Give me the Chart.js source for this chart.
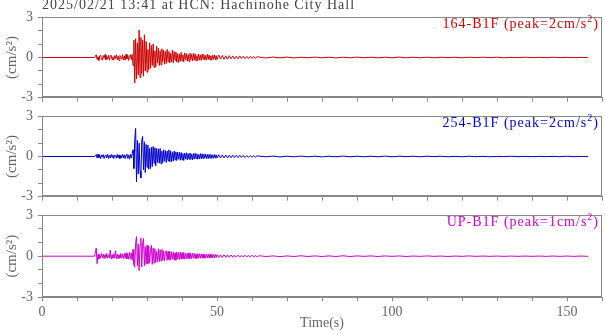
<!DOCTYPE html>
<html>
<head>
<meta charset="utf-8">
<script src="https://cdn.jsdelivr.net/npm/chart.js@4"></script>
<style>
  body { margin: 0; background: #fff; }
  #wrap { position: relative; width: 605px; height: 334px; overflow: hidden; font-family: 'Liberation Serif', 'DejaVu Serif', serif; }
  canvas { position: absolute; left: 0; }
  .lbl { position: absolute; font-size: 14px; letter-spacing: 1px; white-space: nowrap; line-height: 16px; }
  .lbl sup { font-size: 10px; vertical-align: 0; position: relative; top: -6px; }
</style>
</head>
<body>
<div id="wrap">
  <canvas id="p1" width="605" height="107" style="top:4px"></canvas>
  <canvas id="p2" width="605" height="107" style="top:103px"></canvas>
  <canvas id="p3" width="605" height="132" style="top:202px"></canvas>
  <div class="lbl" style="left:42px;top:-3px;color:#444">2025/02/21 13:41 at HCN: Hachinohe City Hall</div>
  <div class="lbl" style="right:6px;top:16px;color:#cc0000">164-B1F (peak=2cm/s<sup>2</sup>)</div>
  <div class="lbl" style="right:6px;top:115px;color:#0000cc">254-B1F (peak=2cm/s<sup>2</sup>)</div>
  <div class="lbl" style="right:6px;top:214px;color:#cc00cc">UP-B1F (peak=1cm/s<sup>2</sup>)</div>
</div>
<script>
// sampling segments of the record: start time (s), step (s), number of samples
const segStart = [0, 15.5, 50, 62];
const segStep = [15, 0.25, 0.5, 2];
const segCount = [2, 138, 24, 48];

// 164-B1F (cm/s2)
const ns = [
  0, 0,
  0.2, -0.15, 0.05, -0.22, 0.12, 0.18, -0.1, -0.2,
  0.15, -0.05, 0.22, -0.18, 0.08, -0.12, 0.16, -0.2,
  0.1, 0.18, -0.15, 0.05, -0.2, 0.14, -0.08, 0.2,
  -0.16, 0.1, -0.22, 0.15, 0.05, -0.12, 0.2, -0.18,
  0.12, -0.2, 0.25, -0.1, 0.16, -0.22, 0.08, 0.2,
  -0.15, 0.25, -0.6, 1.3, -1.9, 1.4, -1.6, 1.1,
  -1.3, 2.05, -1.5, 1.5, -1.2, 1.3, -1.4, 1.7,
  -1.0, 1.2, -1.1, 0.6, -0.9, 1.1, -0.8, 0.9,
  -0.6, 1.0, -0.75, 0.5, -0.7, 0.85, -0.4, 0.7,
  -0.6, 0.5, -0.55, 0.65, -0.3, 0.55, -0.5, 0.45,
  -0.45, 0.6, -0.3, 0.45, -0.4, 0.3, -0.35, 0.55,
  -0.4, 0.45, -0.2, 0.4, -0.35, 0.3, -0.38, 0.25,
  -0.3, 0.38, -0.25, 0.2, -0.32, 0.35, -0.15, 0.3,
  -0.28, 0.22, -0.3, 0.32, -0.18, 0.25, -0.26, 0.3,
  -0.2, 0.28, -0.25, 0.15, -0.22, 0.26, -0.2, 0.18,
  -0.22, 0.25, -0.12, 0.22, -0.2, 0.15, -0.18, 0.24,
  -0.15, 0.2, -0.18, 0.12, -0.2, 0.18, -0.14, 0.2,
  -0.16, 0.15,
  -0.16, 0.18, -0.12, 0.15, -0.14, 0.12, -0.13, 0.14,
  -0.1, 0.12, -0.11, 0.1, -0.1, 0.12, -0.08, 0.1,
  -0.09, 0.08, -0.08, 0.09, -0.07, 0.08, -0.06, 0.07,
  0.03, -0.03, 0.03, -0.02, 0.03, -0.03, 0.02, -0.02,
  0.03, -0.02, 0.02, -0.03, 0.02, -0.02, 0.03, -0.02,
  0.02, -0.02, 0.02, -0.02, 0.03, -0.02, 0.02, -0.02,
  0.02, -0.02, 0.02, -0.01, 0.02, -0.02, 0.02, -0.01,
  0.02, -0.01, 0.02, -0.02, 0.01, -0.01, 0.02, -0.01,
  0.01, -0.01, 0.02, -0.01, 0.01, -0.01, 0.01, -0.01
];

// 254-B1F (cm/s2)
const ew = [
  0, 0,
  0.15, -0.12, 0.18, -0.08, 0.1, -0.16, 0.12, -0.05,
  0.14, -0.15, 0.06, 0.12, -0.1, 0.16, -0.14, 0.08,
  -0.12, 0.15, -0.06, 0.1, -0.15, 0.12, 0.05, -0.13,
  0.16, -0.1, 0.12, -0.15, 0.08, -0.12, 0.15, -0.1,
  0.12, -0.16, 0.1, 0.18, -0.14, 0.12, -0.2, 0.15,
  -0.12, 0.2, 0.5, -0.9, 1.3, 2.1, -1.9, 1.2,
  -1.3, 1.0, -1.1, -1.6, 1.2, 1.5, -1.0, 1.1,
  -1.2, 0.9, -0.8, 0.85, -0.95, 0.6, -0.9, 0.7,
  -0.75, 0.75, -0.5, 0.65, -0.7, 0.6, -0.45, 0.55,
  -0.5, 0.6, -0.55, 0.4, -0.45, 0.5, -0.35, 0.45,
  -0.45, 0.4, -0.3, 0.5, -0.4, 0.42, -0.38, 0.3,
  -0.35, 0.4, -0.25, 0.35, -0.3, 0.32, -0.2, 0.3,
  -0.28, 0.3, -0.25, 0.22, -0.3, 0.25, -0.18, 0.28,
  -0.25, 0.22, -0.2, 0.26, -0.22, 0.18, -0.24, 0.22,
  -0.2, 0.24, -0.16, 0.2, -0.2, 0.15, -0.18, 0.22,
  -0.17, 0.2, -0.15, 0.18, -0.12, 0.18, -0.16, 0.15,
  -0.15, 0.16, -0.12, 0.15, -0.14, 0.12, -0.13, 0.15,
  -0.12, 0.13,
  -0.12, 0.13, -0.11, 0.12, -0.1, 0.11, -0.1, 0.1,
  -0.09, 0.1, -0.08, 0.09, -0.08, 0.09, -0.07, 0.08,
  -0.07, 0.07, -0.06, 0.07, -0.06, 0.06, -0.05, 0.06,
  0.03, -0.02, 0.03, -0.03, 0.02, -0.02, 0.03, -0.02,
  0.02, -0.03, 0.02, -0.02, 0.03, -0.02, 0.02, -0.02,
  0.02, -0.02, 0.03, -0.02, 0.02, -0.01, 0.02, -0.02,
  0.02, -0.01, 0.02, -0.02, 0.01, -0.02, 0.02, -0.01,
  0.01, -0.02, 0.01, -0.01, 0.02, -0.01, 0.01, -0.01,
  0.01, -0.01, 0.01, -0.01, 0.02, -0.01, 0.01, -0.01
];

// UP-B1F (cm/s2)
const ud = [
  0, 0,
  0.6, -0.55, 0.15, -0.2, 0.1, -0.15, 0.2, -0.1,
  0.15, -0.18, 0.12, -0.1, 0.2, -0.15, 0.1, -0.12,
  0.45, -0.2, 0.1, -0.15, 0.18, -0.12, 0.4, -0.18,
  0.15, -0.2, 0.1, -0.15, 0.2, -0.12, 0.15, -0.18,
  0.2, -0.15, 0.25, -0.2, 0.18, -0.22, 0.3, -0.2,
  0.25, -0.3, 0.5, -0.6, -0.82, 1.0, 1.44, -0.7,
  0.9, -1.06, 0.8, 1.32, -0.8, 0.9, 1.3, -0.7,
  0.7, -0.6, 0.8, -0.55, 0.75, -0.5, 0.4, 0.8,
  -0.6, 0.6, -0.5, 0.55, -0.45, 0.35, -0.4, 0.55,
  -0.4, 0.45, -0.35, 0.5, -0.3, 0.4, -0.35, 0.3,
  0.4, -0.3, 0.35, -0.25, 0.38, -0.3, 0.32, -0.2,
  0.3, -0.28, 0.25, -0.3, 0.3, -0.2, 0.28, -0.25,
  0.3, -0.22, 0.25, -0.2, 0.28, -0.22, 0.2, -0.18,
  0.22, -0.2, 0.25, -0.16, 0.2, -0.18, 0.22, -0.15,
  0.2, -0.18, 0.15, -0.17, 0.2, -0.14, 0.18, -0.15,
  0.18, -0.14, 0.16, -0.15, 0.12, -0.14, 0.16, -0.12,
  0.15, -0.13, 0.14, -0.12, 0.15, -0.11, 0.12, -0.12,
  0.13, -0.1,
  0.12, -0.1, 0.11, -0.1, 0.1, -0.09, 0.1, -0.08,
  0.09, -0.08, 0.08, -0.07, 0.08, -0.07, 0.07, -0.06,
  0.07, -0.06, 0.06, -0.05, 0.06, -0.05, 0.05, -0.05,
  0.03, -0.02, 0.02, -0.03, 0.02, -0.02, 0.03, -0.02,
  0.02, -0.02, 0.02, -0.02, 0.03, -0.02, 0.02, -0.01,
  0.02, -0.02, 0.02, -0.01, 0.02, -0.02, 0.01, -0.01,
  0.02, -0.01, 0.01, -0.02, 0.01, -0.01, 0.02, -0.01,
  0.01, -0.01, 0.01, -0.01, 0.01, -0.01, 0.01, -0.01,
  0.01, -0.01, 0.01, -0.01, 0.01, -0.01, 0.01, -0.01
];

const yTickLabels = [-3, 0, 3];
const xTickLabels = [0, 50, 100, 150];

// time of every sample
const timeS = [];
segStart.forEach((s, k) => {
  for (let i = 0; i < segCount[k]; i++) timeS.push(s + i * segStep[k]);
});

const serif = "'Liberation Serif', 'DejaVu Serif', serif";
const axisGray = '#888';
const textGray = '#666';

const frame = {
  id: 'frame',
  afterDraw(chart) {
    const a = chart.chartArea;
    const c = chart.ctx;
    c.save();
    c.strokeStyle = axisGray;
    c.lineWidth = 1;
    c.strokeRect(Math.round(a.left) + 0.5, Math.round(a.top) + 0.5, Math.round(a.right - a.left) - 1, Math.round(a.bottom - a.top) - 1);
    c.restore();
  }
};

function makePanel(id, vals, color, isBottom) {
  new Chart(document.getElementById(id), {
    type: 'line',
    data: {
      datasets: [{
        data: timeS.map((t, i) => ({ x: t, y: vals[i] })),
        borderColor: color,
        borderWidth: 1,
        pointRadius: 0,
        tension: 0,
        fill: false
      }]
    },
    options: {
      responsive: false,
      animation: false,
      events: [],
      layout: { padding: { top: 10, right: 2, left: 0, bottom: 0 } },
      plugins: { legend: { display: false }, tooltip: { enabled: false } },
      scales: {
        x: {
          type: 'linear',
          min: 0,
          max: 160,
          grid: { drawOnChartArea: false, drawTicks: true, tickLength: 4, color: axisGray },
          border: { display: true, color: axisGray },
          ticks: {
            stepSize: 10,
            autoSkip: false,
            maxRotation: 0,
            padding: 3,
            color: textGray,
            font: { family: serif, size: 14 },
            callback: v => (isBottom && xTickLabels.includes(v)) ? String(v) : ''
          },
          title: {
            display: isBottom,
            text: 'Time(s)',
            color: textGray,
            font: { family: serif, size: 14 },
            padding: { top: 0, bottom: 2 }
          },
          afterFit: s => { s.height = isBottom ? 37 : 12; }
        },
        y: {
          min: -3,
          max: 3,
          grid: { drawOnChartArea: false, drawTicks: true, tickLength: 4, color: axisGray },
          border: { display: true, color: axisGray },
          ticks: {
            stepSize: 1,
            autoSkip: false,
            padding: 5,
            color: textGray,
            font: { family: serif, size: 14 },
            callback: v => yTickLabels.includes(v) ? String(v) : ''
          },
          title: {
            display: true,
            text: '(cm/s²)',
            color: textGray,
            font: { family: serif, size: 15 },
            padding: { top: 3, bottom: 0 }
          },
          afterFit: s => { s.width = 42; }
        }
      }
    },
    plugins: [frame]
  });
}

makePanel('p1', ns, '#cc0000', false);
makePanel('p2', ew, '#0000cc', false);
makePanel('p3', ud, '#cc00cc', true);
</script>
</body>
</html>
